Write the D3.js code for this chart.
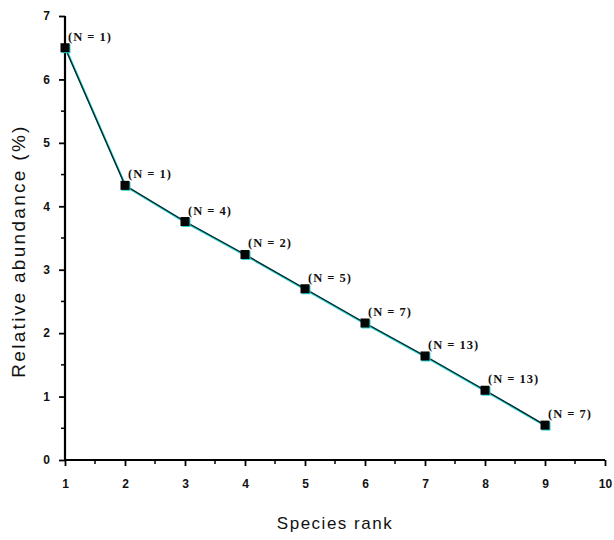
<!DOCTYPE html>
<html>
<head>
<meta charset="utf-8">
<script src="https://cdn.jsdelivr.net/npm/d3@7"></script>
<style>
  html, body { margin: 0; padding: 0; background: #fff; }
  svg { display: block; }
</style>
</head>
<body>
<svg id="chart" width="614" height="540"></svg>
<script>
// Rank-abundance data
const ranks = [1, 2, 3, 4, 5, 6, 7, 8, 9];
const abundance = [6.5, 4.33, 3.76, 3.24, 2.70, 2.16, 1.64, 1.10, 0.55];
const counts = [1, 1, 4, 2, 5, 7, 13, 13, 7];
const xTicks = [1, 2, 3, 4, 5, 6, 7, 8, 9, 10];
const yTicks = [0, 1, 2, 3, 4, 5, 6, 7];

const svg = d3.select("#chart");
const x = d3.scaleLinear().domain([1, 10]).range([65, 605]);
const y = d3.scaleLinear().domain([0, 7]).range([460, 16]);

const points = ranks.map((r, i) => ({ r, v: abundance[i], n: counts[i] }));

// Minor ticks at half steps
const xMinor = d3.range(1.5, 10, 1);
const yMinor = d3.range(0.5, 7, 1);

svg.append("g").selectAll("line").data(xMinor).join("line")
  .attr("x1", d => x(d)).attr("x2", d => x(d))
  .attr("y1", y(0)).attr("y2", y(0) + 4)
  .attr("stroke", "#000").attr("stroke-width", 1.5);
svg.append("g").selectAll("line").data(yMinor).join("line")
  .attr("y1", d => y(d)).attr("y2", d => y(d))
  .attr("x1", x(1)).attr("x2", x(1) - 4)
  .attr("stroke", "#000").attr("stroke-width", 1.5);

// Axes
const xAxis = svg.append("g")
  .attr("transform", `translate(0,${y(0)})`)
  .call(d3.axisBottom(x).tickValues(xTicks).tickFormat(d3.format("d")).tickSizeOuter(0).tickSize(6).tickPadding(13));
const yAxis = svg.append("g")
  .attr("transform", `translate(${x(1)},0)`)
  .call(d3.axisLeft(y).tickValues(yTicks).tickFormat(d3.format("d")).tickSizeOuter(0).tickSize(6).tickPadding(9));

[xAxis, yAxis].forEach(g => {
  g.select(".domain").attr("stroke", "#000").attr("stroke-width", 2.2);
  g.selectAll(".tick line").attr("stroke", "#000").attr("stroke-width", 1.8);
  g.selectAll(".tick text")
    .attr("fill", "#111")
    .style("font-family", "'Liberation Sans', Arial, sans-serif")
    .style("font-weight", "bold")
    .style("font-size", "12px");
});
// extend x domain line under the y axis
xAxis.select(".domain").attr("d", `M${x(1) - 1},0H${x(10)}`);
yAxis.select(".domain").attr("d", `M0,${y(0) + 1}V${y(7)}`);

// Connecting line with cyan halo
const line = d3.line().x(d => x(d.r)).y(d => y(d.v));
svg.append("path").datum(points)
  .attr("d", line)
  .attr("fill", "none")
  .attr("stroke", "#2ad4d4")
  .attr("stroke-width", 2.2)
  .attr("transform", "translate(0.8,1)");
svg.append("path").datum(points)
  .attr("d", line)
  .attr("fill", "none")
  .attr("stroke", "#0b1f22")
  .attr("stroke-width", 1.3);

// Square markers
const s = 9;
svg.append("g").selectAll("rect.halo").data(points).join("rect")
  .attr("x", d => x(d.r) - s / 2 + 1).attr("y", d => y(d.v) - s / 2 + 1)
  .attr("width", s).attr("height", s)
  .attr("fill", "#2ad4d4");
svg.append("g").selectAll("rect.mk").data(points).join("rect")
  .attr("x", d => x(d.r) - s / 2).attr("y", d => y(d.v) - s / 2)
  .attr("width", s).attr("height", s)
  .attr("fill", "#050505");

// Count labels
svg.append("g").selectAll("text").data(points).join("text")
  .attr("x", d => x(d.r) + 3)
  .attr("y", d => y(d.v) - 7)
  .text(d => `(N = ${d.n})`)
  .style("font-family", "'Liberation Serif', 'Times New Roman', serif")
  .style("font-weight", "bold")
  .style("font-size", "12.5px")
  .style("letter-spacing", "1px")
  .attr("fill", "#111");

// Axis titles
svg.append("text")
  .attr("x", 335).attr("y", 529)
  .attr("text-anchor", "middle")
  .style("font-family", "'Liberation Sans', Arial, sans-serif")
  .style("font-size", "17px")
  .style("letter-spacing", "1.5px")
  .attr("fill", "#111")
  .text("Species rank");

svg.append("text")
  .attr("transform", "translate(25,251) rotate(-90)")
  .attr("text-anchor", "middle")
  .style("font-family", "'Liberation Sans', Arial, sans-serif")
  .style("font-size", "19px")
  .style("letter-spacing", "2.3px")
  .attr("fill", "#111")
  .text("Relative abundance (%)");
</script>
</body>
</html>
